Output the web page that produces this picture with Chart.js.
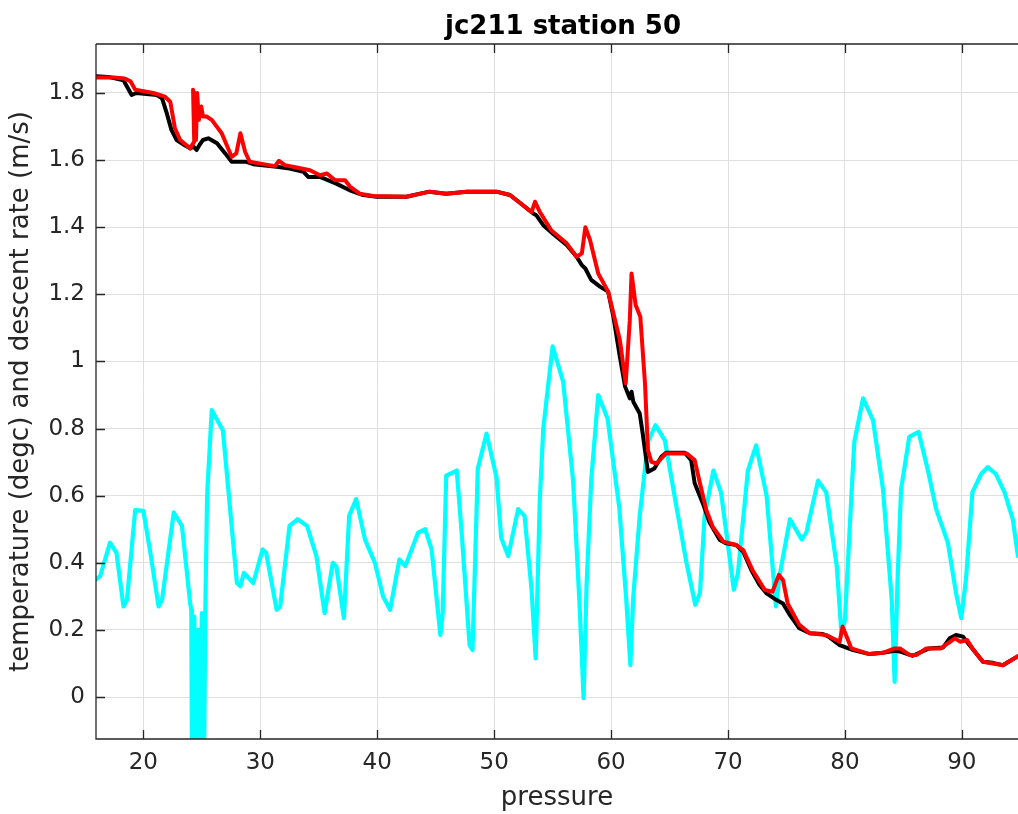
<!DOCTYPE html>
<html>
<head>
<meta charset="utf-8">
<title>jc211 station 50</title>
<script src="https://cdn.jsdelivr.net/npm/chart.js@4/dist/chart.umd.min.js"></script>
<style>
  body { margin: 0; background: #ffffff; }
  #wrap { width: 1018px; height: 814px; }
</style>
</head>
<body>
<div id="wrap"><canvas id="linechart" width="1018" height="814"></canvas></div>
<script>
// jc211 station 50 - descent rate (black / red) and temperature (cyan) vs pressure
var xTicks = [20, 30, 40, 50, 60, 70, 80, 90];
var yTicks = [0, 0.2, 0.4, 0.6, 0.8, 1, 1.2, 1.4, 1.6, 1.8];

var blackP = [15.95, 17.0, 18.3, 19.0, 19.4, 21.15, 21.6, 22.0, 22.4, 22.85, 23.5, 24.0, 24.3, 24.55, 24.8, 25.1, 25.55, 26.3, 27.0, 27.55,
  28.8, 29.4, 31.4, 32.5, 33.7, 34.1, 35.1, 36.5, 37.65, 38.8, 39.95, 42.5, 44.45, 45.9, 47.65, 50.2, 51.35, 51.9, 53.35, 53.6,
  54.2, 55.05, 56.2, 57.05, 57.5, 57.8, 58.3, 59.05, 59.75, 60.2, 60.75, 61.2, 61.6, 61.75, 61.9, 62.45, 62.7, 63.15, 63.7, 64.3,
  64.7, 66.3, 66.85, 67.15, 67.85, 68.4, 69.3, 69.85, 70.7, 71.3, 72.0, 72.7, 73.3, 74.15, 74.7, 75.3, 76.1, 77.0, 78.1, 78.6,
  79.55, 80.7, 82.1, 83.25, 84.25, 84.8, 85.8, 87.2, 88.4, 88.95, 89.5, 90.1, 90.65, 91.8, 92.65, 93.5, 94.8];
var blackV = [1.850, 1.848, 1.838, 1.794, 1.800, 1.794, 1.784, 1.74, 1.69, 1.66, 1.645, 1.635, 1.64, 1.63, 1.645, 1.66, 1.665, 1.65, 1.62, 1.595,
  1.595, 1.588, 1.580, 1.575, 1.565, 1.55, 1.55, 1.53, 1.51, 1.496, 1.491, 1.491, 1.506, 1.50, 1.506, 1.506, 1.496, 1.481, 1.441, 1.436,
  1.406, 1.38, 1.347, 1.312, 1.287, 1.277, 1.243, 1.223, 1.208, 1.133, 1.014, 0.925, 0.89, 0.91, 0.88, 0.845, 0.786, 0.671, 0.681, 0.716,
  0.728, 0.728, 0.706, 0.637, 0.577, 0.522, 0.468, 0.458, 0.453, 0.433, 0.378, 0.334, 0.309, 0.289, 0.279, 0.244, 0.205, 0.19, 0.188, 0.18,
  0.155, 0.14, 0.128, 0.132, 0.138, 0.135, 0.123, 0.145, 0.148, 0.175, 0.185, 0.18, 0.155, 0.105, 0.102, 0.095, 0.122];

var redP = [15.95, 17.5, 18.4, 18.9, 19.3, 20.85, 21.85, 22.3, 22.7, 23.15, 24.0, 24.35, 24.25, 24.45, 24.5, 24.6, 24.75, 24.95, 25.1, 25.4,
  25.85, 26.7, 27.55, 27.95, 28.3, 28.7, 29.1, 30.25, 31.25, 31.6, 32.1, 33.1, 34.25, 35.1, 35.7, 36.4, 37.25, 37.7, 38.5, 39.65,
  42.5, 44.5, 45.9, 47.65, 50.2, 51.35, 51.9, 53.2, 53.5, 53.9, 54.9, 56.2, 57.05, 57.5, 57.8, 58.2, 58.9, 59.75, 60.75, 61.25,
  61.6, 61.75, 62.1, 62.5, 62.9, 63.15, 63.45, 63.9, 64.7, 66.45, 67.15, 67.6, 68.15, 68.7, 69.6, 70.7, 71.3, 72.1, 73.15, 73.8,
  74.35, 74.7, 75.1, 76.1, 77.0, 78.4, 79.55, 79.8, 80.55, 82.1, 83.25, 84.25, 84.7, 85.55, 86.1, 86.95, 88.2, 89.4, 89.85, 90.45,
  91.0, 91.8, 93.5, 94.8];
var redV = [1.846, 1.846, 1.843, 1.835, 1.81, 1.80, 1.789, 1.774, 1.695, 1.66, 1.635, 1.655, 1.81, 1.78, 1.66, 1.80, 1.72, 1.76, 1.73, 1.73,
  1.72, 1.68, 1.61, 1.62, 1.68, 1.625, 1.595, 1.588, 1.582, 1.598, 1.585, 1.578, 1.57, 1.555, 1.56, 1.54, 1.54, 1.52, 1.50, 1.493,
  1.491, 1.506, 1.50, 1.506, 1.506, 1.496, 1.481, 1.445, 1.476, 1.446, 1.39, 1.352, 1.312, 1.322, 1.40, 1.362, 1.262, 1.208, 1.064, 0.935,
  1.123, 1.262, 1.168, 1.133, 0.935, 0.736, 0.701, 0.696, 0.726, 0.726, 0.706, 0.637, 0.557, 0.507, 0.463, 0.453, 0.438, 0.378, 0.319, 0.314,
  0.364, 0.349, 0.279, 0.215, 0.19, 0.185, 0.165, 0.21, 0.145, 0.128, 0.132, 0.145, 0.145, 0.125, 0.125, 0.145, 0.145, 0.175, 0.165, 0.17,
  0.14, 0.105, 0.095, 0.122];

var cyanP = [15.95, 16.3, 17.15, 17.7, 18.3, 18.6, 19.3, 20.0, 20.6, 21.3, 21.6, 22.6, 23.3, 24.0, 24.1, 24.15, 24.35, 24.5, 24.7, 24.85,
  25.0, 25.2, 25.3, 25.45, 25.85, 26.8, 28.0, 28.3, 28.6, 29.4, 30.2, 30.5, 31.4, 31.7, 32.5, 33.2, 34.0, 34.8, 35.5, 36.2,
  36.5, 37.15, 37.6, 38.2, 38.95, 39.8, 40.5, 41.1, 41.9, 42.4, 43.5, 44.1, 44.65, 45.4, 45.6, 45.9, 46.8, 47.2, 47.9, 48.15,
  48.6, 49.35, 50.2, 50.6, 51.2, 52.05, 52.6, 53.2, 53.55, 53.9, 54.2, 55.0, 55.9, 56.75, 57.3, 57.65, 57.9, 58.3, 58.9, 59.7,
  60.7, 61.3, 61.65, 61.9, 62.45, 63.15, 63.8, 64.6, 65.6, 66.45, 67.2, 67.6, 68.0, 68.75, 69.4, 70.5, 70.85, 71.7, 72.4, 73.3,
  74.1, 74.4, 75.3, 76.3, 76.7, 77.7, 78.4, 79.3, 79.7, 80.0, 80.5, 80.8, 81.55, 82.4, 83.25, 84.0, 84.25, 84.5, 84.8, 85.5,
  86.3, 87.1, 87.8, 88.8, 89.5, 89.95, 90.35, 90.9, 91.65, 92.2, 92.9, 93.65, 94.35, 94.8];
var cyanV = [0.35, 0.36, 0.46, 0.43, 0.27, 0.29, 0.557, 0.555, 0.43, 0.27, 0.29, 0.55, 0.51, 0.28, 0.26, -0.15, 0.24, -0.15, 0.20, -0.15,
  0.25, -0.15, 0.26, 0.60, 0.855, 0.795, 0.34, 0.33, 0.37, 0.34, 0.44, 0.43, 0.26, 0.27, 0.51, 0.53, 0.51, 0.42, 0.25, 0.40,
  0.39, 0.235, 0.54, 0.59, 0.47, 0.40, 0.30, 0.26, 0.41, 0.39, 0.49, 0.50, 0.44, 0.185, 0.25, 0.66, 0.675, 0.50, 0.155, 0.14,
  0.68, 0.785, 0.655, 0.475, 0.42, 0.56, 0.54, 0.32, 0.115, 0.585, 0.80, 1.045, 0.94, 0.645, 0.28, -0.003, 0.33, 0.645, 0.90, 0.83,
  0.565, 0.29, 0.095, 0.30, 0.54, 0.76, 0.81, 0.765, 0.565, 0.40, 0.275, 0.31, 0.54, 0.675, 0.61, 0.32, 0.37, 0.675, 0.75, 0.60,
  0.27, 0.36, 0.53, 0.47, 0.49, 0.645, 0.61, 0.39, 0.19, 0.23, 0.565, 0.76, 0.89, 0.825, 0.62, 0.29, 0.045, 0.35, 0.62, 0.775,
  0.79, 0.675, 0.56, 0.46, 0.31, 0.235, 0.35, 0.61, 0.665, 0.685, 0.665, 0.61, 0.53, 0.42];

function toPoints(xs, ys) {
    var pts = [];
    for (var i = 0; i < xs.length; i++) {
        pts.push({x: xs[i], y: ys[i]});
    }
    return pts;
}

const axisColor = "#262626";
const fontName = "'DejaVu Sans', sans-serif";

// MATLAB style box: top border, inward tick marks and the title
const matlabAxes = {
    id: "matlabAxes",
    afterDraw(chart) {
        const ctx = chart.ctx;
        const a = chart.chartArea;
        const xs = chart.scales.x;
        const ys = chart.scales.y;
        ctx.save();
        ctx.strokeStyle = axisColor;
        ctx.lineWidth = 1.3;
        ctx.beginPath();
        ctx.moveTo(a.left, a.top);
        ctx.lineTo(a.right, a.top);
        ctx.moveTo(a.left, a.top);
        ctx.lineTo(a.left, a.bottom);
        ctx.lineTo(a.right, a.bottom);
        xTicks.forEach(function(v) {
            const px = Math.round(xs.getPixelForValue(v)) + 0.5;
            ctx.moveTo(px, a.bottom);
            ctx.lineTo(px, a.bottom - 9);
            ctx.moveTo(px, a.top);
            ctx.lineTo(px, a.top + 9);
        });
        yTicks.forEach(function(v) {
            const py = Math.round(ys.getPixelForValue(v)) + 0.5;
            ctx.moveTo(a.left, py);
            ctx.lineTo(a.left + 9, py);
        });
        ctx.stroke();

        ctx.fillStyle = "#000000";
        ctx.font = "bold 26px " + fontName;
        ctx.textAlign = "center";
        ctx.textBaseline = "alphabetic";
        ctx.fillText("jc211 station 50", 563, 34);
        ctx.restore();
    }
};

const ctx = document.getElementById("linechart").getContext("2d");

const config = {
    type: "line",
    data: {
        datasets: [
            {
                label: "descent rate (red)",
                data: toPoints(redP, redV),
                borderColor: "#ff0000",
                borderWidth: 4,
            },
            {
                label: "descent rate (black)",
                data: toPoints(blackP, blackV),
                borderColor: "#000000",
                borderWidth: 4,
            },
            {
                label: "temperature",
                data: toPoints(cyanP, cyanV),
                borderColor: "#00ffff",
                borderWidth: 4.2,
            },
        ]
    },
    options: {
        responsive: false,
        animation: false,
        devicePixelRatio: 1,
        parsing: false,
        elements: {
            point: { radius: 0 },
            line: { tension: 0, borderJoinStyle: "round", borderCapStyle: "round", fill: false }
        },
        layout: {
            padding: { top: 44, right: 0, bottom: 0, left: 0 }
        },
        scales: {
            x: {
                type: "linear",
                min: 15.95,
                max: 94.8,
                afterBuildTicks: function(s) { s.ticks = xTicks.map(function(v) { return {value: v}; }); },
                afterFit: function(s) { s.height = 75; },
                grid: { color: "#dfdfdf", lineWidth: 1, drawTicks: false },
                border: { display: false },
                ticks: {
                    color: axisColor,
                    padding: 10,
                    maxRotation: 0,
                    callback: function(v) { return String(v); },
                    font: { family: fontName, size: 23 }
                },
                title: {
                    display: true,
                    text: "pressure",
                    color: axisColor,
                    padding: { top: 0, bottom: 0 },
                    font: { family: fontName, size: 26 }
                }
            },
            y: {
                type: "linear",
                min: -0.125,
                max: 1.946,
                afterBuildTicks: function(s) { s.ticks = yTicks.map(function(v) { return {value: v}; }); },
                afterFit: function(s) { s.width = 96; },
                grid: { color: "#dfdfdf", lineWidth: 1, drawTicks: false },
                border: { display: false },
                ticks: {
                    color: axisColor,
                    padding: 11,
                    callback: function(v) { return String(v); },
                    font: { family: fontName, size: 23 }
                },
                title: {
                    display: true,
                    text: "temperature (degc) and descent rate (m/s)",
                    color: axisColor,
                    padding: { top: 6, bottom: 0 },
                    font: { family: fontName, size: 26 }
                }
            }
        },
        plugins: {
            legend: { display: false },
            tooltip: { enabled: false },
            title: { display: false }
        }
    },
    plugins: [matlabAxes]
};

var lineChart = new Chart(ctx, config);
</script>
</body>
</html>
